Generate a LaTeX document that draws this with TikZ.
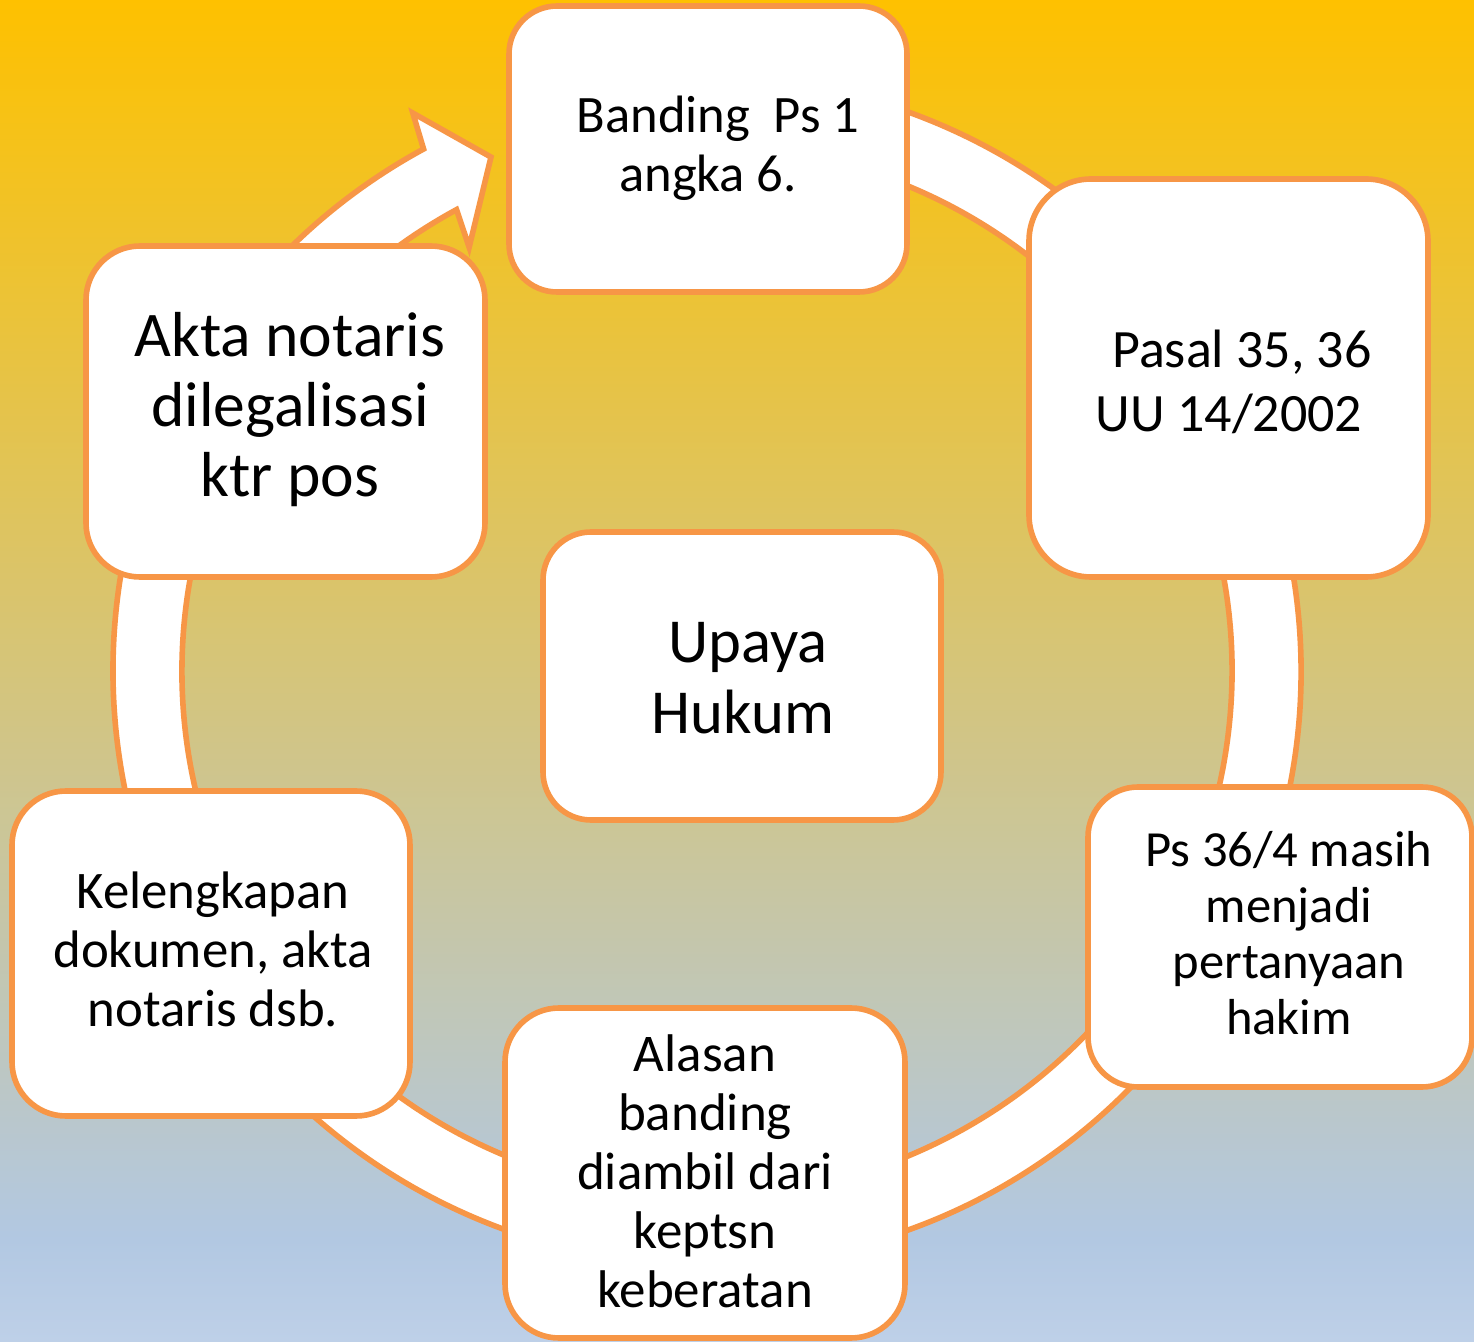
\documentclass[tikz,border=0pt]{standalone}
\usepackage{fontspec}
\setmainfont{Carlito}
\definecolor{bgGold}{RGB}{254,193,0}
\definecolor{bgBlue}{RGB}{178,200,226}
\definecolor{bgBlueL}{RGB}{190,208,232}
\definecolor{accOrange}{RGB}{247,150,70}
\pgfdeclareverticalshading{bgshade}{100bp}{color(0bp)=(bgBlueL); color(25bp)=(bgBlueL); color(28.8bp)=(bgBlue); color(75bp)=(bgGold); color(100bp)=(bgGold)}
\tikzset{
  boxstyle/.style={draw=accOrange, line width=2.8pt, fill=white, rectangle, inner sep=0pt, outer sep=0pt},
  ringstyle/.style={draw=accOrange, line width=2.8pt, fill=white, line join=miter},
  txt/.style={align=center, text=black, inner sep=0pt, anchor=base},
}
\begin{document}
\begin{tikzpicture}[x=0.5pt, y=0.5pt]
\clip (0,0) rectangle (1474,1341);
\shade[shading=bgshade] (0,0) rectangle (1474,1341);
% circular arrow
\begin{scope}[shift={(707,670)}]
\draw[ringstyle] (100:297pt) arc[start angle=100, end angle=-241.5, radius=297pt]
  -- (-242.2:315.35pt) -- (-247.2:278.75pt) -- (-240.7:243pt) -- (-241.5:262.5pt)
  arc[start angle=-241.5, end angle=100, radius=262.5pt] -- cycle;
\end{scope}
% boxes
\node[boxstyle, minimum width=199pt, minimum height=143pt, rounded corners=24pt] (b1) at (708,1192) {};
\node[boxstyle, minimum width=199.5pt, minimum height=199pt, rounded corners=31pt] (b2) at (1228.5,963) {};
\node[boxstyle, minimum width=192pt, minimum height=150pt, rounded corners=25pt] (b3) at (1280,404) {};
\node[boxstyle, minimum width=200pt, minimum height=165pt, rounded corners=27pt] (b4) at (705,168) {};
\node[boxstyle, minimum width=199pt, minimum height=162.5pt, rounded corners=27pt] (b5) at (211,387.5) {};
\node[boxstyle, minimum width=199.5pt, minimum height=165.5pt, rounded corners=27pt] (b6) at (285.5,929.5) {};
\node[boxstyle, minimum width=199pt, minimum height=144pt, rounded corners=24pt] (b0) at (742,665) {};
% texts (anchor = baseline of last line)
\node[txt, font=\fontsize{26.3pt}{29.5pt}\selectfont] (t1) at (718,1149) {Banding\ \ Ps 1\\angka 6.\hspace*{10pt}};
\node[txt, font=\fontsize{27pt}{32pt}\selectfont] (t2) at (1229,909) {\hspace*{13pt}Pasal 35, 36\\UU 14/2002};
\node[txt, font=\fontsize{25.3pt}{28pt}\selectfont] (t3) at (1289,307) {Ps 36/4 masih\\menjadi\\pertanyaan\\hakim};
\node[txt, font=\fontsize{26.5pt}{29.5pt}\selectfont] (t4) at (705,34) {Alasan\\banding\\diambil dari\\keptsn\\keberatan};
\node[txt, font=\fontsize{26.4pt}{29.5pt}\selectfont] (t5) at (213,315) {Kelengkapan\\dokumen, akta\\notaris dsb.};
\node[txt, font=\fontsize{31.8pt}{35pt}\selectfont] (t6) at (290,844) {Akta notaris\\dilegalisasi\\ktr pos};
\node[txt, font=\fontsize{31.3pt}{36pt}\selectfont] (t0) at (743,607) {\hspace*{5pt}Upaya\\Hukum};
\end{tikzpicture}
\end{document}
